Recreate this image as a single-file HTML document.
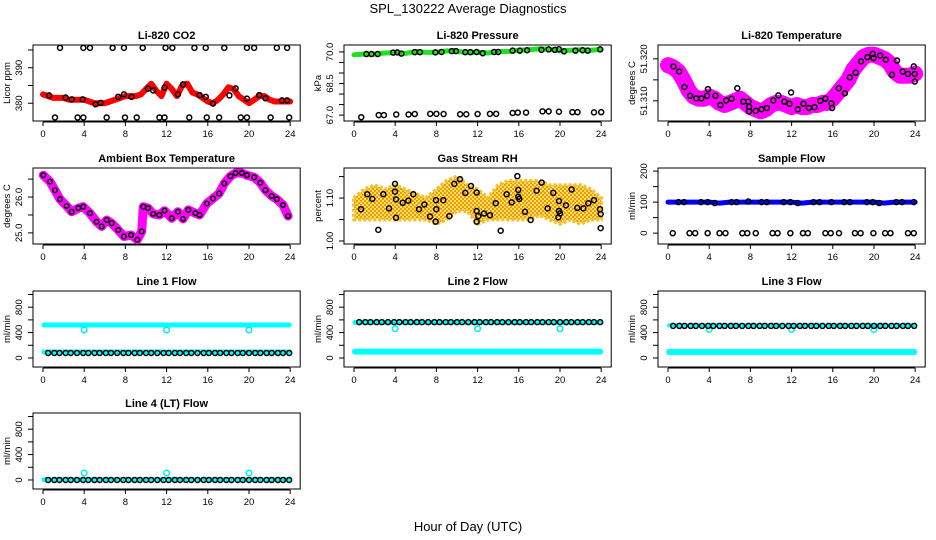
<!DOCTYPE html>
<html><head><meta charset="utf-8"><style>
body{margin:0;background:#fff}
svg{display:block;font-family:"Liberation Sans",Arial,sans-serif}
</style></head><body>
<svg id="chart" width="936" height="540" viewBox="0 0 936 540">
<defs>
<pattern id="rhPat" width="4" height="4" patternUnits="userSpaceOnUse">
<rect width="4" height="4" fill="#ffe24a"/>
<rect x="0" y="0" width="2" height="2" fill="#e89a20"/>
<rect x="2" y="2" width="2" height="2" fill="#e89a20"/>
</pattern>
</defs>
<text x="468" y="13" text-anchor="middle" font-size="13">SPL_130222  Average Diagnostics</text>
<text x="468" y="531" text-anchor="middle" font-size="13">Hour of Day (UTC)</text>
</svg>
<script>
// ---------- data ----------
const xTicks = [0,4,8,12,16,20,24];
// CO2
const co2BandHours = [0,0.5,1,1.5,2,2.5,3,3.5,4,4.5,5,5.5,6,6.5,7,7.5,8,8.5,9,9.5,10,10.5,11,11.5,12,12.5,13,13.5,14,14.5,15,15.5,16,16.5,17,17.5,18,18.5,19,19.5,20,20.5,21,21.5,22,22.5,23,23.5,24];
const co2BandVals = [382.5,382,381.5,381.5,381.5,381,381,381,381,380.5,380,380,380,380.5,381,381.5,382,382,382,382.5,384,385.5,383.5,382,385.5,384,382,385,385.5,383,382.5,381.5,380.5,380,381,382.5,384.5,384,382,381,380,381,382,382,381,380.5,380.5,380.5,380.5];
const co2TopHours = [1.65,3.92,4.56,6.76,7.86,9.68,11.9,12.56,14.7,15.8,17.6,19.8,20.5,22.7,23.7];
const co2TopVals = [395.6,395.6,395.6,395.6,395.6,395.6,395.6,395.6,395.6,395.6,395.6,395.6,395.6,395.6,395.6];
const co2LowHours = [1.16,3.36,3.92,6.18,7.96,9.1,11.3,11.8,14.2,15.9,17.1,19.2,19.8,22.1,23.9];
const co2LowVals = [376,376,376,376,376,376,376,376,376,376,376,376,376,376,376];
const co2MidHours = [0.6,2.2,2.8,3.85,5.1,5.6,7.3,7.86,8.6,10.2,10.7,11.8,13.1,13.6,15.2,15.8,16.5,18.1,18.7,19.8,21,21.6,23.2,23.7];
const co2MidVals = [382.2,381.6,381.1,381.1,379.7,380.1,381.8,382.5,381.8,384.1,383.6,384.4,382.5,385.3,382.3,381.8,379.9,382.2,384.2,381.3,382.3,381.4,380.8,380.8];
// Pressure
const presBandHours = [0,1,2,3,4,5,6,7,8,9,10,11,12,13,14,15,16,17,18,19,20,21,22,23,24];
const presBandVals = [69.87,69.9,69.9,69.95,69.97,69.93,70.02,69.98,69.98,70.05,70.02,69.98,69.98,69.95,70.02,70.02,70.08,70.1,70.15,70.12,70.05,70.08,70.1,70.08,70.12];
const presHiHours = [1.2,1.7,2.3,3.8,4.2,4.6,5.9,6.4,7.9,8.5,9.5,9.9,10.8,11.3,11.9,12.5,13.6,14,15.4,16.1,16.8,18.2,18.9,19.5,19.9,20.4,21.5,22.2,22.7,23.9];
const presHiVals = [69.9,69.9,69.9,69.97,69.98,69.92,69.99,69.99,69.98,70.0,70.04,70.04,69.99,69.99,70.0,69.94,70.0,70.0,70.06,70.06,70.08,70.1,70.12,70.1,70.13,70.03,70.06,70.08,70.06,70.12];
const presLoHours = [0.7,2.4,2.9,4.1,5.3,5.9,7.4,8,8.7,10.3,10.9,12,13.2,13.8,15.4,15.9,16.7,18.3,18.9,19.9,21.2,21.7,23.3,24];
const presLoVals = [66.9,67.0,67.0,67.03,67.03,67.05,67.06,67.06,67.05,67.04,67.04,67.05,67.06,67.06,67.1,67.12,67.12,67.18,67.18,67.16,67.14,67.14,67.13,67.14];
// Li-820 temperature
const tempBandHours = co2BandHours;
const tempBandVals = [51.3185,51.318,51.317,51.315,51.3125,51.311,51.3105,51.3105,51.311,51.3105,51.3095,51.309,51.3095,51.310,51.3105,51.3095,51.3085,51.308,51.3075,51.308,51.309,51.3095,51.3095,51.309,51.3085,51.309,51.3085,51.3085,51.309,51.309,51.3095,51.3095,51.3105,51.312,51.3135,51.315,51.3175,51.319,51.3205,51.321,51.321,51.3205,51.320,51.319,51.317,51.316,51.316,51.316,51.3165];
const tempPtHours = [0.52,1.08,1.6,2.15,2.74,3.23,3.79,3.88,4.6,5.09,5.65,6.17,6.73,7.31,7.8,7.87,7.87,8.52,9.08,9.6,10.22,10.71,11.3,11.8,11.95,12.6,13.15,13.68,14.23,14.79,15.28,15.86,15.93,16.58,17.17,17.66,18.22,18.74,19.36,19.88,19.95,20.6,21.15,21.74,22.23,22.79,23.3,23.86,23.96,23.96];
const tempPtVals = [51.3182,51.317,51.3133,51.3112,51.3106,51.3106,51.3112,51.3128,51.3112,51.309,51.3101,51.3105,51.313,51.3098,51.3098,51.3086,51.3075,51.3076,51.308,51.3083,51.3101,51.3113,51.3098,51.3093,51.312,51.308,51.3093,51.3083,51.3085,51.31,51.3105,51.3094,51.3083,51.313,51.3118,51.3156,51.3167,51.3194,51.3204,51.3212,51.3202,51.3208,51.3198,51.3162,51.3196,51.317,51.3164,51.3182,51.3164,51.3146];
// Ambient box temperature
const ambHours = [0.03,0.68,1.16,1.65,2.3,2.78,3.43,3.9,4.56,5.2,5.7,6.18,6.67,7.3,7.86,8.54,9.16,9.58,9.74,10.2,10.7,11.3,11.8,12.5,13.1,13.6,14.1,14.8,15.2,15.9,16.5,17.1,17.6,18.2,18.7,19.3,19.8,20.5,21.1,21.6,22.2,22.7,23.3,23.8];
const ambVals = [26.61,26.43,26.19,25.94,25.75,25.59,25.69,25.73,25.55,25.31,25.18,25.36,25.27,25.08,24.9,24.94,24.81,25.04,25.73,25.69,25.53,25.5,25.62,25.41,25.59,25.39,25.64,25.55,25.5,25.82,25.96,26.1,26.38,26.58,26.67,26.67,26.61,26.55,26.4,26.19,26.03,25.94,25.78,25.47];
// Gas stream RH
const rhEnvHours = [0,1,2,3,4,5,6,7,8,9,10,11,12,13,14,15,16,17,18,19,20,21,22,23,24];
const rhUpper = [1.10,1.12,1.13,1.12,1.13,1.12,1.11,1.10,1.12,1.14,1.15,1.13,1.12,1.10,1.13,1.14,1.14,1.14,1.14,1.13,1.13,1.13,1.13,1.12,1.10];
const rhLower = [1.05,1.05,1.05,1.05,1.05,1.05,1.05,1.05,1.04,1.05,1.07,1.07,1.04,1.05,1.05,1.05,1.05,1.05,1.06,1.05,1.04,1.05,1.04,1.05,1.05];
const rhPtHours = [0.68,1.29,1.78,2.36,2.85,3.4,3.98,3.98,4.08,4.08,4.73,5.27,5.76,6.31,6.83,7.38,7.93,7.96,7.99,8.67,9.26,9.74,10.29,10.81,11.36,11.91,11.91,11.91,12.07,12.62,13.2,13.76,14.24,14.82,15.31,15.86,15.95,15.95,16.05,16.6,17.15,17.73,18.22,18.8,19.35,19.9,19.9,19.84,20.0,20.58,21.13,21.68,22.27,22.75,23.3,23.88,23.95,23.95];
const rhPtVals = [1.074,1.109,1.098,1.026,1.109,1.076,1.133,1.115,1.097,1.054,1.089,1.094,1.109,1.074,1.085,1.057,1.045,1.095,1.074,1.095,1.058,1.133,1.144,1.112,1.128,1.113,1.07,1.045,1.058,1.064,1.06,1.088,1.024,1.109,1.09,1.151,1.119,1.103,1.098,1.068,1.049,1.117,1.136,1.076,1.112,1.093,1.07,1.055,1.064,1.083,1.12,1.077,1.076,1.088,1.095,1.074,1.063,1.03];
// Sample flow
const sfBandHours = presBandHours;
const sfBandVals = [100,100,100,100,100,97,100,100,100,100,100,100,100,97,100,100,100,100,100,100,100,97,100,100,100];
const sfHiHours = [1.01,1.56,3.2,3.85,4.54,6.17,6.66,7.8,9.08,9.6,11.23,11.88,12.6,14.13,14.72,15.86,17.1,17.66,19.3,19.88,20.5,22.17,22.72,23.86];
const sfHiVals = [100,100,100,100,97,100,100,102,100,100,100,100,97,100,100,100,100,100,100,100,97,100,100,100];
const sfZeroHours = [0.46,2.09,2.64,3.85,5.0,5.58,7.22,7.7,8.52,10.15,10.64,11.88,13.1,13.58,15.28,15.8,16.6,18.15,18.7,19.94,21.08,21.6,23.3,23.86];
const sfZeroVals = [0,0,0,0,0,0,0,0,0,0,0,0,0,0,0,0,0,0,0,0,0,0,0,0];
// Line flows
const flowHours = [0.5,1.1,1.6,2.2,2.7,3.3,3.9,4.4,5.0,5.5,6.1,6.6,7.2,7.8,8.3,8.9,9.4,10.0,10.5,11.1,11.7,12.2,12.8,13.3,13.9,14.4,15.0,15.6,16.1,16.7,17.2,17.8,18.3,18.9,19.4,20.0,20.6,21.1,21.7,22.2,22.8,23.3,23.9];
const bandHours = [0.1,4,8,12,16,20,23.9];
const dipHours = [4,12,20];
const line1Hi = [520,520,520,520,520,520,520];
const line1Lo = [95,95,95,95,95,95,95];
const line1Dip = [440,440,440];
const line1Black = [79,79,79,79,79,79,79,79,79,79,79,79,79,79,79,79,79,79,79,79,79,79,79,79,79,79,79,79,79,79,79,79,79,79,79,79,79,79,79,79,79,79,79];
const line2Hi = [560,560,560,560,560,560,560];
const line2Lo = [100,100,100,100,100,100,100];
const line2Dip = [460,460,460];
const line2Black = [565,565,565,565,565,565,565,565,565,565,565,565,565,565,565,565,565,565,565,565,565,565,565,565,565,565,565,565,565,565,565,565,565,565,565,565,565,565,565,565,565,565,565];
const line3Hi = [515,515,515,515,515,515,515];
const line3Lo = [95,95,95,95,95,95,95];
const line3Dip = [450,450,450];
const line3Black = [505,505,505,505,505,505,505,505,505,505,505,505,505,505,505,505,505,505,505,505,505,505,505,505,505,505,505,505,505,505,505,505,505,505,505,505,505,505,505,505,505,505,505];
const line4Lo = [5,5,5,5,5,5,5];
const line4Dip = [110,110,110];
const line4Black = [0,0,0,0,0,0,0,0,0,0,0,0,0,0,0,0,0,0,0,0,0,0,0,0,0,0,0,0,0,0,0,0,0,0,0,0,0,0,0,0,0,0,0];

// ---------- drawing ----------
const NS = 'http://www.w3.org/2000/svg';
const svg = document.getElementById('chart');
const colX0 = [43, 354, 668];
const rowTop = [45, 168, 291, 413];
const PXH = 10.3, BOXH = 76;
function mk(tag, attrs, name, parent) {
  const el = document.createElementNS(NS, tag);
  for (const k in attrs) el.setAttribute(k, attrs[k]);
  
  
  (parent || svg).appendChild(el);
  return el;
}
function panel(col, row, title, ylab, vTop, vBot, ticks, labels, slug) {
  const x0 = colX0[col], top = rowTop[row], bot = top + BOXH;
  const left = x0 - 10, right = x0 + 24 * PXH + 10;
  const g = mk('g', {}, slug + '-panel');
  const sx = h => x0 + h * PXH;
  const sy = v => top + (vTop - v) / (vTop - vBot) * BOXH;
  mk('rect', {x: left, y: top, width: right - left, height: BOXH, fill: 'none', stroke: '#000', 'stroke-width': 1}, slug + '-plot-box', g);
  const t = mk('text', {x: (left + right) / 2, y: top - 6, 'text-anchor': 'middle', 'font-size': 11, 'font-weight': 'bold'}, slug + '-title', g);
  t.textContent = title;
  mk('line', {x1: sx(0), x2: sx(24), y1: bot + 1, y2: bot + 1, stroke: '#000'}, slug + '-x-axis', g);
  xTicks.forEach(h => {
    mk('line', {x1: sx(h), x2: sx(h), y1: bot + 1, y2: bot + 5, stroke: '#000'}, slug + '-x-tick', g);
    const l = mk('text', {x: sx(h), y: bot + 16, 'text-anchor': 'middle', 'font-size': 9.5}, slug + '-x-tick-label', g);
    l.textContent = h;
  });
  ticks.forEach(v => {
    mk('line', {x1: left - 5, x2: left, y1: sy(v), y2: sy(v), stroke: '#000'}, slug + '-y-tick', g);
  });
  labels.forEach(s => {
    const y = sy(parseFloat(s));
    const l = mk('text', {x: 0, y: 0, transform: `translate(${left - 11},${y}) rotate(-90)`, 'text-anchor': 'middle', 'font-size': 9.5}, slug + '-y-tick-label', g);
    l.textContent = s;
  });
  const yl = mk('text', {x: 0, y: 0, transform: `translate(${left - 23},${(top + bot) / 2}) rotate(-90)`, 'text-anchor': 'middle', 'font-size': 9.5}, slug + '-y-axis-title', g);
  yl.textContent = ylab;
  const clip = mk('clipPath', {id: slug + '-clip'}, slug + '-clip', g);
  mk('rect', {x: left, y: top, width: right - left, height: BOXH}, slug + '-clip-rect', clip);
  const d = mk('g', {'clip-path': `url(#${slug}-clip)`}, slug + '-data', g);
  return {sx, sy, d, slug};
}
function band(p, hs, vs, color, w, name) {
  const pts = hs.map((h, i) => p.sx(h).toFixed(1) + ',' + p.sy(vs[i]).toFixed(1)).join(' ');
  mk('polyline', {points: pts, fill: 'none', stroke: color, 'stroke-width': w, 'stroke-linejoin': 'round', 'stroke-linecap': 'round'}, name, p.d);
}
function dots(p, hs, vs, color, name, r) {
  hs.forEach((h, i) => {
    mk('circle', {cx: p.sx(h), cy: p.sy(vs[i]), r: r || 2.5, fill: 'none', stroke: color, 'stroke-width': 1.5}, name, p.d);
  });
}

// Panel 1 CO2
let p = panel(0, 0, 'Li-820 CO2', 'Licor ppm', 396.4, 375, [380,385,390,395], ['380','390'], 'co2');
band(p, co2BandHours, co2BandVals, '#ff0000', 6, 'co2-red-series');
dots(p, co2TopHours, co2TopVals, '#000', 'co2-point-high');
dots(p, co2LowHours, co2LowVals, '#000', 'co2-point-low');
dots(p, co2MidHours, co2MidVals, '#000', 'co2-point');
// Panel 2 Pressure
p = panel(1, 0, 'Li-820 Pressure', 'kPa', 70.33, 66.72, [67,67.5,68,68.5,69,69.5,70], ['67.0','68.5','70.0'], 'pressure');
band(p, presBandHours, presBandVals, '#22e022', 5, 'pressure-green-series');
dots(p, presHiHours, presHiVals, '#000', 'pressure-point');
dots(p, presLoHours, presLoVals, '#000', 'pressure-point-low');
// Panel 3 Temperature
p = panel(2, 0, 'Li-820 Temperature', 'degrees C', 51.3233, 51.3052, [51.310,51.315,51.320], ['51.310','51.320'], 'li820-temp');
band(p, tempBandHours, tempBandVals, '#ff00ff', 16, 'li820-temp-magenta-series');
dots(p, tempPtHours, tempPtVals, '#000', 'li820-temp-point');
// Panel 4 Ambient
p = panel(0, 1, 'Ambient Box Temperature', 'degrees C', 26.81, 24.69, [25,25.5,26,26.5], ['25.0','26.0'], 'ambient');
band(p, ambHours, ambVals, '#ff00ff', 9, 'ambient-magenta-series');
dots(p, ambHours, ambVals, '#000', 'ambient-point', 2.3);
// Panel 5 RH
p = panel(1, 1, 'Gas Stream RH', 'percent', 1.17, 0.993, [1.00,1.05,1.10,1.15], ['1.00','1.10'], 'rh');
{
  const up = rhEnvHours.map((h, i) => p.sx(h).toFixed(1) + ',' + p.sy(rhUpper[i]).toFixed(1));
  const lo = rhEnvHours.map((h, i) => p.sx(h).toFixed(1) + ',' + p.sy(rhLower[i]).toFixed(1)).reverse();
  mk('polygon', {points: up.concat(lo).join(' '), fill: 'url(#rhPat)', stroke: '#f5c030', 'stroke-width': 4, 'stroke-dasharray': '3 2', 'stroke-linejoin': 'round'}, 'rh-orange-cloud', p.d);
}
dots(p, rhPtHours, rhPtVals, '#000', 'rh-point');
// Panel 6 Sample flow
p = panel(2, 1, 'Sample Flow', 'ml/min', 210, -35, [0,50,100,150,200], ['0','100','200'], 'sample-flow');
band(p, sfBandHours, sfBandVals, '#0000ff', 5, 'sample-flow-blue-series');
dots(p, sfHiHours, sfHiVals, '#000', 'sample-flow-point');
dots(p, sfZeroHours, sfZeroVals, '#000', 'sample-flow-point-zero');
// Flow panels
const flowTicks = [0,200,400,600,800,1000], flowLabels = ['0','400','800'];
p = panel(0, 2, 'Line 1 Flow', 'ml/min', 1055, -142, flowTicks, flowLabels, 'line1');
band(p, bandHours, line1Hi, '#00ffff', 5, 'line1-cyan-high');
band(p, bandHours, line1Lo, '#00ffff', 5, 'line1-cyan-low');
dots(p, dipHours, line1Dip, '#00eeee', 'line1-cyan-dip', 2.8);
dots(p, flowHours, line1Black, '#000', 'line1-point');
p = panel(1, 2, 'Line 2 Flow', 'ml/min', 1055, -142, flowTicks, flowLabels, 'line2');
band(p, bandHours, line2Hi, '#00ffff', 5, 'line2-cyan-high');
band(p, bandHours, line2Lo, '#00ffff', 6, 'line2-cyan-low');
dots(p, dipHours, line2Dip, '#00eeee', 'line2-cyan-dip', 2.8);
dots(p, flowHours, line2Black, '#000', 'line2-point');
p = panel(2, 2, 'Line 3 Flow', 'ml/min', 1055, -142, flowTicks, flowLabels, 'line3');
band(p, bandHours, line3Hi, '#00ffff', 4, 'line3-cyan-high');
band(p, bandHours, line3Lo, '#00ffff', 6, 'line3-cyan-low');
dots(p, dipHours, line3Dip, '#00eeee', 'line3-cyan-dip', 2.8);
dots(p, flowHours, line3Black, '#000', 'line3-point');
p = panel(0, 3, 'Line 4 (LT) Flow', 'ml/min', 1055, -142, flowTicks, flowLabels, 'line4');
band(p, bandHours, line4Lo, '#00ffff', 5, 'line4-cyan-low');
dots(p, dipHours, line4Dip, '#00eeee', 'line4-cyan-dip', 2.8);
dots(p, flowHours, line4Black, '#000', 'line4-point');
</script>
</body></html>
